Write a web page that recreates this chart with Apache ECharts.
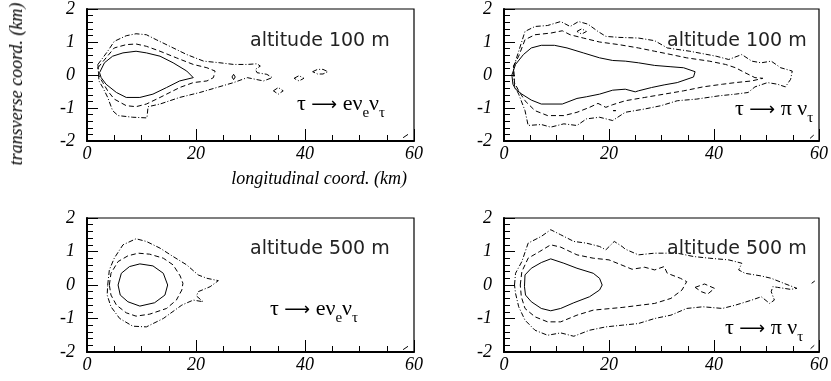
<!DOCTYPE html>
<html>
<head>
<meta charset="utf-8">
<script src="https://cdn.jsdelivr.net/npm/echarts@6/dist/echarts.min.js"></script>
<style>
  html, body { margin: 0; padding: 0; background: #fff; }
  #wrap { position: relative; width: 831px; height: 381px; }
  #chart { position: absolute; left: 0; top: 0; width: 831px; height: 381px; }
  .txt { position: absolute; white-space: nowrap; color: #000; }
  .alt { font: 19px "DejaVu Sans"; color: #222; line-height: 22px; }
  .decay { font: 22px "Liberation Serif"; line-height: 24px; }
  .decay .ar { font: 18px "DejaVu Sans"; }
  .decay sub { font-size: 15px; vertical-align: -7px; line-height: 0; }
  .ttl { font: italic 18px "Liberation Serif"; line-height: 20px; }
</style>
</head>
<body>
<div id="wrap">
  <div id="chart"></div>
</div>
<script>
// axis ranges / tick labels
const xRange = [0, 60, 20];
const yRange = [-2, 2, 1];
const altitudes = ["altitude 100 m", "altitude 100 m", "altitude 500 m", "altitude 500 m"];

// panel 1 : altitude 100 m, tau -> e nu nu
const p1Solid = [[2.3,0.07],[3.2,0.37],[4.7,0.57],[6.6,0.67],[9.0,0.72],[10.9,0.67],[13.4,0.57],[15.8,0.37],[18.3,0.12],[19.5,-0.08],[17.0,-0.18],[14.6,-0.38],[12.1,-0.58],[9.7,-0.68],[7.2,-0.68],[5.4,-0.53],[3.5,-0.28],[2.6,-0.08],[2.3,0.07]];
const p1Dashed = [[2.0,0.22],[3.5,0.52],[5.0,0.82],[7.2,0.92],[9.0,0.94],[10.9,0.87],[13.4,0.72],[16.4,0.52],[19.5,0.32],[22.0,0.22],[23.5,0.12],[23.2,-0.08],[22.0,-0.18],[19.5,-0.23],[17.0,-0.38],[13.4,-0.68],[10.9,-0.88],[9.0,-0.96],[7.2,-0.93],[5.0,-0.73],[3.8,-0.48],[2.9,-0.23],[2.2,-0.03],[2.0,0.22]];
const p1DashDot = [[2.0,0.32],[3.8,0.72],[5.0,1.02],[7.2,1.19],[9.0,1.25],[10.9,1.22],[12.7,1.07],[15.2,0.87],[18.3,0.62],[21.4,0.42],[24.4,0.37],[26.9,0.32],[29.4,0.32],[31.2,0.34],[31.8,0.27],[30.9,0.17],[31.2,0.07],[33.0,0.02],[34.0,-0.08],[32.4,-0.18],[30.9,-0.13],[29.4,-0.08],[26.9,-0.23],[23.8,-0.38],[20.7,-0.53],[17.0,-0.68],[13.4,-0.88],[11.2,-0.96],[11.0,-1.3],[8.4,-1.28],[5.7,-1.23],[4.7,-1.08],[3.8,-0.68],[2.9,-0.38],[2.2,-0.18],[2.0,0.32]];
const p1Dot = [[26.6,-0.06],[26.9,0.02],[27.2,-0.06],[26.9,-0.14],[26.6,-0.06]];
const p1IslandA = [[34.2,-0.48],[35.1,-0.38],[36.0,-0.48],[35.1,-0.58],[34.2,-0.48]];
const p1IslandB = [[38.0,-0.1],[38.9,-0.02],[39.8,-0.1],[38.9,-0.18],[38.0,-0.1]];
const p1IslandC = [[41.4,0.1],[42.3,0.17],[43.3,0.17],[44.2,0.1],[43.3,0.03],[42.3,0.03],[41.4,0.1]];
const p1Corner = [[58.0,-1.9],[58.9,-1.8]];

// panel 2 : altitude 100 m, tau -> pi nu
const p2Solid = [[1.5,0.0],[2.2,0.32],[3.7,0.62],[5.2,0.82],[7.1,0.9],[9.6,0.9],[12.0,0.82],[15.1,0.67],[18.2,0.52],[20.7,0.44],[23.1,0.42],[25.6,0.37],[28.7,0.29],[31.8,0.25],[34.2,0.22],[36.4,0.1],[36.1,-0.06],[33.0,-0.23],[30.5,-0.3],[28.1,-0.38],[25.6,-0.48],[25.0,-0.51],[23.1,-0.43],[20.7,-0.46],[18.2,-0.58],[15.7,-0.66],[13.9,-0.71],[11.1,-0.88],[7.1,-0.88],[5.2,-0.76],[3.4,-0.58],[2.2,-0.43],[1.7,-0.28],[1.5,0.0]];
const p2Dashed = [[1.8,0.27],[2.8,0.57],[4.0,1.07],[5.9,1.22],[8.9,1.27],[11.1,1.34],[12.6,1.22],[15.1,1.12],[18.2,1.0],[21.9,0.92],[25.6,0.82],[28.7,0.72],[31.8,0.62],[34.8,0.52],[39.1,0.42],[42.2,0.32],[44.1,0.22],[45.9,0.07],[47.8,-0.08],[49.3,-0.1],[47.2,-0.18],[44.1,-0.23],[41.6,-0.28],[37.9,-0.36],[36.7,-0.4],[34.2,-0.48],[30.5,-0.58],[26.8,-0.68],[23.1,-0.78],[20.7,-0.9],[19.4,-0.98],[17.9,-0.86],[16.3,-0.98],[13.9,-1.13],[11.4,-1.23],[8.3,-1.23],[5.9,-1.08],[4.0,-0.78],[2.8,-0.48],[2.0,-0.23],[1.8,0.27]];
const p2DashDot = [[1.8,0.22],[2.8,0.72],[4.0,1.32],[5.9,1.47],[8.3,1.5],[10.8,1.62],[12.6,1.47],[14.2,1.62],[16.0,1.54],[17.9,1.32],[19.4,1.17],[21.9,1.14],[25.6,1.12],[28.7,1.04],[31.1,0.82],[35.4,0.72],[40.4,0.57],[42.8,0.47],[45.3,0.62],[47.2,0.42],[49.0,0.37],[50.9,0.42],[52.7,0.22],[54.9,0.12],[54.6,-0.13],[53.6,-0.36],[52.1,-0.28],[50.2,-0.23],[47.8,-0.36],[46.5,-0.53],[44.1,-0.58],[41.0,-0.63],[36.7,-0.73],[33.0,-0.78],[29.9,-0.93],[26.8,-1.03],[23.1,-1.13],[20.7,-1.38],[18.2,-1.28],[15.7,-1.33],[13.9,-1.53],[11.4,-1.48],[8.9,-1.58],[7.1,-1.5],[4.6,-1.53],[4.0,-1.08],[2.8,-0.58],[2.0,-0.33],[1.8,0.22]];
const p2IslandA = [[13.9,1.32],[14.8,1.4],[15.7,1.32],[14.8,1.24],[13.9,1.32]];
const p2Dot = [[20.8,-1.08],[21.1,-1.04],[21.3,-1.08],[21.1,-1.12],[20.8,-1.08]];
const p2Corner = [[58.3,-1.92],[59.0,-1.82]];

// panel 3 : altitude 500 m, tau -> e nu nu
const p3Solid = [[5.7,0.0],[6.3,0.35],[7.8,0.55],[9.7,0.63],[12.1,0.57],[14.0,0.35],[14.8,0.0],[14.3,-0.3],[12.4,-0.53],[9.7,-0.63],[7.5,-0.5],[6.1,-0.3],[5.7,0.0]];
const p3Dashed = [[4.1,0.0],[4.4,0.35],[5.7,0.7],[7.5,0.87],[9.4,0.95],[11.5,0.92],[14.0,0.8],[15.8,0.6],[17.1,0.27],[17.6,0.05],[17.4,-0.15],[16.4,-0.45],[14.6,-0.7],[11.5,-0.87],[9.0,-0.93],[7.2,-0.83],[5.4,-0.6],[4.4,-0.3],[4.1,0.0]];
const p3DashDot = [[3.8,0.0],[4.1,0.45],[5.0,0.8],[6.6,1.2],[9.0,1.38],[10.9,1.3],[13.4,1.1],[15.8,0.85],[18.3,0.6],[20.4,0.3],[22.0,0.2],[24.1,0.13],[22.6,-0.05],[20.4,-0.2],[20.1,-0.33],[21.3,-0.5],[19.5,-0.45],[17.4,-0.6],[14.0,-1.0],[10.9,-1.25],[8.4,-1.23],[6.0,-1.0],[4.4,-0.65],[3.7,-0.3],[3.8,0.0]];
const p3Corner = [[58.0,-1.93],[58.9,-1.83]];

// panel 4 : altitude 500 m, tau -> pi nu
const p4Solid = [[3.9,-0.05],[4.0,0.3],[5.2,0.5],[7.1,0.67],[8.9,0.78],[11.4,0.65],[13.9,0.5],[17.0,0.35],[18.2,0.2],[18.7,0.0],[18.2,-0.15],[16.3,-0.35],[13.3,-0.53],[10.8,-0.7],[8.9,-0.77],[7.1,-0.7],[5.2,-0.5],[4.1,-0.3],[3.9,-0.05]];
const p4Dashed = [[3.1,0.0],[3.4,0.4],[4.6,0.8],[6.8,1.0],[8.9,1.2],[10.8,1.13],[13.9,0.9],[17.0,0.8],[20.0,0.75],[24.4,0.47],[26.8,0.53],[28.7,0.45],[30.5,0.55],[31.1,0.35],[33.6,0.2],[34.8,0.1],[33.9,-0.15],[31.8,-0.4],[28.7,-0.55],[22.5,-0.67],[17.0,-0.75],[13.9,-0.9],[10.8,-1.1],[8.3,-1.1],[5.9,-0.95],[4.0,-0.7],[3.3,-0.35],[3.1,0.0]];
const p4DashDot = [[2.0,0.0],[2.2,0.35],[3.4,0.7],[4.6,1.25],[7.1,1.45],[8.9,1.65],[10.8,1.5],[13.3,1.3],[15.7,1.25],[18.2,1.15],[19.4,1.05],[21.0,1.3],[22.5,1.15],[23.1,1.07],[25.6,0.9],[28.7,0.95],[33.0,0.95],[36.1,0.85],[39.1,0.8],[42.8,0.75],[45.3,0.65],[44.7,0.45],[45.9,0.35],[49.0,0.27],[50.9,0.2],[53.3,0.05],[55.8,-0.1],[54.6,-0.13],[52.1,-0.07],[51.2,-0.05],[50.9,-0.2],[51.5,-0.45],[50.6,-0.55],[49.0,-0.35],[47.2,-0.45],[44.1,-0.6],[41.6,-0.7],[37.9,-0.65],[34.8,-0.7],[31.8,-0.9],[28.7,-1.0],[25.6,-1.15],[22.5,-1.2],[19.4,-1.25],[16.3,-1.35],[13.3,-1.53],[10.8,-1.43],[8.3,-1.5],[5.9,-1.35],[4.0,-1.05],[2.8,-0.65],[2.2,-0.25],[2.0,0.0]];
const p4IslandA = [[36.4,-0.07],[38.2,0.03],[40.1,-0.1],[38.8,-0.27],[37.6,-0.2],[36.4,-0.07]];
const p4Edge = [[58.6,0.05],[59.2,0.12]];
const p4Corner = [[58.4,-1.9],[59.1,-1.8]];

const DASH = [5, 3];
const DASHDOT = [5, 2, 1, 2];

const grids = [
  { left: 87, top: 7, width: 327, height: 134 },
  { left: 504, top: 7, width: 326, height: 134 },
  { left: 87, top: 218, width: 327, height: 134 },
  { left: 504, top: 218, width: 326, height: 134 }
];

const labelFont = { fontFamily: "Liberation Serif", fontStyle: "italic", fontSize: 18, color: "#000" };

// axes on their own canvas layer (zlevel 1), apart from the contour lines
function makeX(i) {
  return {
    type: "value", gridIndex: i, min: xRange[0], max: xRange[1], interval: xRange[2], zlevel: 1, z: 5,
    axisLine: { show: true, onZero: false, lineStyle: { color: "#000", width: 2 } },
    axisTick: { show: true, inside: true, length: 12, lineStyle: { color: "#000", width: 1 } },
    minorTick: { show: true, splitNumber: 4, length: 6, lineStyle: { color: "#000", width: 1 } },
    splitLine: { show: false },
    axisLabel: Object.assign({ show: true, margin: 4 }, labelFont)
  };
}
function makeY(i) {
  return {
    type: "value", gridIndex: i, min: yRange[0], max: yRange[1], interval: yRange[2], zlevel: 1, z: 5,
    axisLine: { show: true, onZero: false, lineStyle: { color: "#000", width: 2 } },
    axisTick: { show: true, inside: true, length: 11, lineStyle: { color: "#000", width: 1 } },
    minorTick: { show: true, splitNumber: 5, length: 6, lineStyle: { color: "#000", width: 1 } },
    splitLine: { show: false },
    axisLabel: Object.assign({ show: true, margin: 12 }, labelFont)
  };
}

function contour(i, pts, type) {
  return {
    type: "line", xAxisIndex: i, yAxisIndex: i, data: pts,
    symbol: "none", silent: true, clip: false,
    lineStyle: { color: "#000", width: 1, type: type }
  };
}

const series = [
  contour(0, p1Solid, "solid"), contour(0, p1Dashed, DASH), contour(0, p1DashDot, DASHDOT),
  contour(0, p1Dot, "solid"), contour(0, p1IslandA, DASHDOT), contour(0, p1IslandB, DASHDOT),
  contour(0, p1IslandC, DASHDOT), contour(0, p1Corner, "solid"),
  contour(1, p2Solid, "solid"), contour(1, p2Dashed, DASH), contour(1, p2DashDot, DASHDOT),
  contour(1, p2IslandA, DASHDOT), contour(1, p2Dot, "solid"), contour(1, p2Corner, "solid"),
  contour(2, p3Solid, "solid"), contour(2, p3Dashed, DASH), contour(2, p3DashDot, DASHDOT),
  contour(2, p3Corner, "solid"),
  contour(3, p4Solid, "solid"), contour(3, p4Dashed, DASH), contour(3, p4DashDot, DASHDOT),
  contour(3, p4IslandA, DASH), contour(3, p4Edge, "solid"), contour(3, p4Corner, "solid")
];

const chart = echarts.init(document.getElementById("chart"));
chart.setOption({
  animation: false,
  grid: grids.map(g => Object.assign({ show: true, backgroundColor: "transparent", borderColor: "#000", borderWidth: 1.2 }, g)),
  xAxis: grids.map((g, i) => makeX(i)),
  yAxis: grids.map((g, i) => makeY(i)),
  series: series
});

// text annotations laid over the chart
const wrap = document.getElementById("wrap");
function addText(cls, html, css) {
  const d = document.createElement("div");
  d.className = "txt " + cls;
  d.innerHTML = html;
  Object.assign(d.style, css);
  wrap.appendChild(d);
}
const decayE = 'τ <span class="ar">⟶</span> eν<sub>e</sub>ν<sub>τ</sub>';
const decayPi = 'τ <span class="ar">⟶</span> π ν<sub>τ</sub>';
addText("alt", altitudes[0], { left: "250px", top: "28px" });
addText("alt", altitudes[1], { left: "667px", top: "28px" });
addText("alt", altitudes[2], { left: "250px", top: "236px" });
addText("alt", altitudes[3], { left: "667px", top: "236px" });
addText("decay", decayE, { left: "297px", top: "91px" });
addText("decay", decayPi, { left: "735px", top: "96px" });
addText("decay", decayE, { left: "270px", top: "296px" });
addText("decay", decayPi, { left: "725px", top: "315px" });
addText("ttl", "longitudinal coord. (km)", { right: "424px", top: "168px" });
addText("ttl", "transverse coord. (km)", { left: "16px", top: "84px", transform: "translate(-50%, -50%) rotate(-90deg)" });
</script>
</body>
</html>
